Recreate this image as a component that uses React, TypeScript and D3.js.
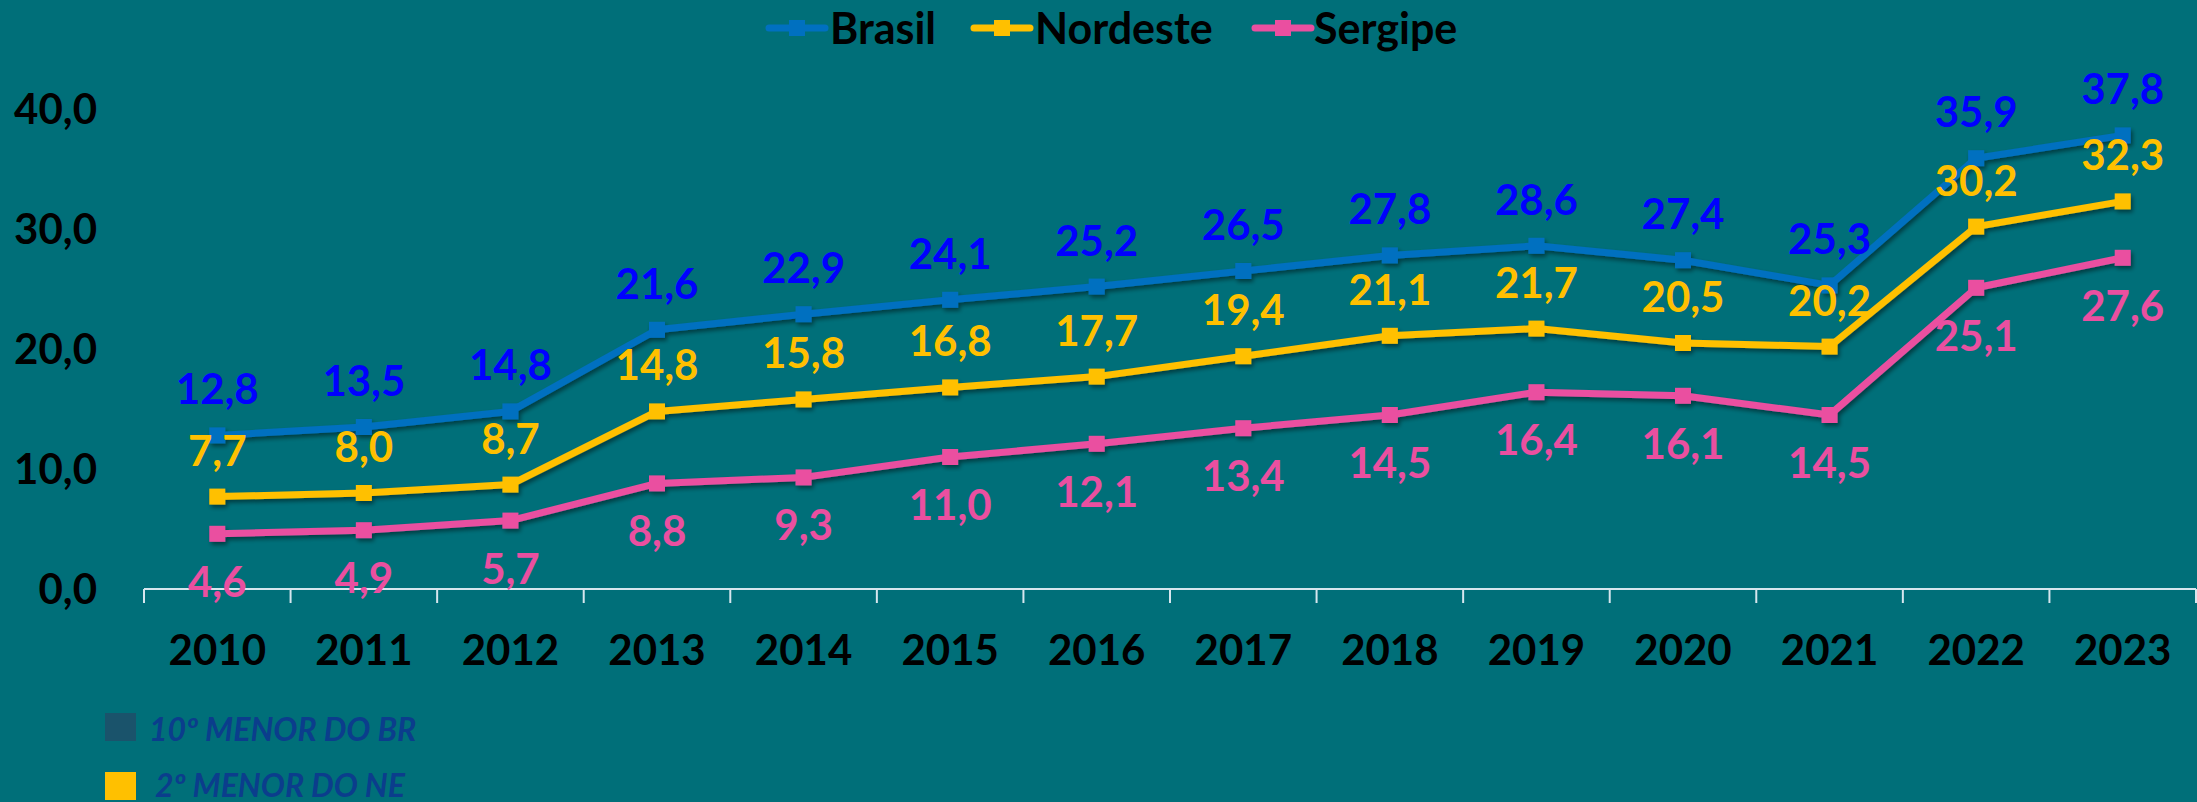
import React from "react";
import * as d3 from "d3";

const years = ["2010","2011","2012","2013","2014","2015","2016","2017","2018","2019","2020","2021","2022","2023"];
const brasil = [12.8,13.5,14.8,21.6,22.9,24.1,25.2,26.5,27.8,28.6,27.4,25.3,35.9,37.8];
const nordeste = [7.7,8.0,8.7,14.8,15.8,16.8,17.7,19.4,21.1,21.7,20.5,20.2,30.2,32.3];
const sergipe = [4.6,4.9,5.7,8.8,9.3,11.0,12.1,13.4,14.5,16.4,16.1,14.5,25.1,27.6];
const yTicks = [0,10,20,30,40];
const seriesNames = ["Brasil","Nordeste","Sergipe"];
const noteLabels = ["10º MENOR DO BR","2º MENOR DO NE"];

const W = 2197, H = 802;
const BG = "#006F79";
const FONT = "Lato, 'Open Sans', sans-serif";

const fmt = (v: number) => v.toFixed(1).replace(".", ",");

export default function App() {
  const x = d3.scaleBand<string>().domain(years).range([144, 2196]).paddingInner(0).paddingOuter(0);
  const y = d3.scaleLinear().domain([0, 40]).range([589, 109]);
  const cx = (yr: string) => (x(yr) as number) + x.bandwidth() / 2;

  const series = [
    { name: seriesNames[0], values: brasil, line: "#0070C0", label: "#0000FF", offset: -46 },
    { name: seriesNames[1], values: nordeste, line: "#FFC000", label: "#FFC000", offset: -46 },
    { name: seriesNames[2], values: sergipe, line: "#EA4FA0", label: "#EA4FA0", offset: 48 },
  ];

  const lineGen = d3.line<number>().x((_, i) => cx(years[i])).y((v) => y(v));
  const boundaries = [...years.map((yr) => x(yr) as number), x.range()[1]];

  const legendPos = [
    { mx: 769, tx: 830 },
    { mx: 974, tx: 1035 },
    { mx: 1255, tx: 1314 },
  ];

  return (
    <svg width={W} height={H} style={{ position: "absolute", left: 0, top: 0, display: "block" }} fontFamily={FONT}>
      <defs>
        <filter id="sh" x="-10%" y="-10%" width="120%" height="130%">
          <feDropShadow dx="2" dy="3" stdDeviation="2" floodColor="#000" floodOpacity="0.45" />
        </filter>
      </defs>
      <rect x={0} y={0} width={W} height={H} fill={BG} />

      {/* legend */}
      {series.map((s, i) => (
        <g key={s.name}>
          <line x1={legendPos[i].mx} x2={legendPos[i].mx + 56} y1={28} y2={28} stroke={s.line} strokeWidth={7} strokeLinecap="round" />
          <rect x={legendPos[i].mx + 28 - 8} y={20} width={16} height={16} fill={s.line} />
          <text x={legendPos[i].tx} y={44} fontSize={43} fontWeight="bold" fill="#000">{s.name}</text>
        </g>
      ))}

      {/* y labels */}
      {yTicks.map((t) => (
        <text key={t} x={97} y={y(t) + 15} textAnchor="end" fontSize={42} fontWeight="bold" fill="#000">{fmt(t)}</text>
      ))}

      {/* x axis */}
      <line x1={x.range()[0]} x2={x.range()[1]} y1={589} y2={589} stroke="#D6E6EE" strokeWidth={2} />
      {boundaries.map((b, i) => (
        <line key={i} x1={b} x2={b} y1={589} y2={603} stroke="#D6E6EE" strokeWidth={2} />
      ))}
      {years.map((yr) => (
        <text key={yr} x={cx(yr)} y={665} textAnchor="middle" fontSize={42} fontWeight="bold" fill="#000">{yr}</text>
      ))}

      {/* lines */}
      {series.map((s) => (
        <g key={s.name} filter="url(#sh)">
          <path d={lineGen(s.values) || ""} fill="none" stroke={s.line} strokeWidth={7} strokeLinejoin="round" />
          {s.values.map((v, i) => (
            <rect key={i} x={cx(years[i]) - 8} y={y(v) - 8} width={16} height={16} fill={s.line} />
          ))}
        </g>
      ))}

      {/* labels */}
      {series.map((s) => (
        <g key={s.name}>
          {s.values.map((v, i) => (
            <text key={i} x={cx(years[i])} y={y(v) + s.offset + 15} textAnchor="middle" fontSize={42} fontWeight="bold" fill={s.label}>{fmt(v)}</text>
          ))}
        </g>
      ))}

      {/* notes */}
      <rect x={105} y={713} width={31} height={28} fill="#1A536B" />
      <text x={149} y={741} fontSize={32} fontWeight="bold" fontStyle="italic" fill="#0B3D8C">{noteLabels[0]}</text>
      <rect x={105} y={772} width={31} height={28} fill="#FFC000" />
      <text x={155} y={797} fontSize={32} fontWeight="bold" fontStyle="italic" fill="#0B3D8C">{noteLabels[1]}</text>
    </svg>
  );
}
